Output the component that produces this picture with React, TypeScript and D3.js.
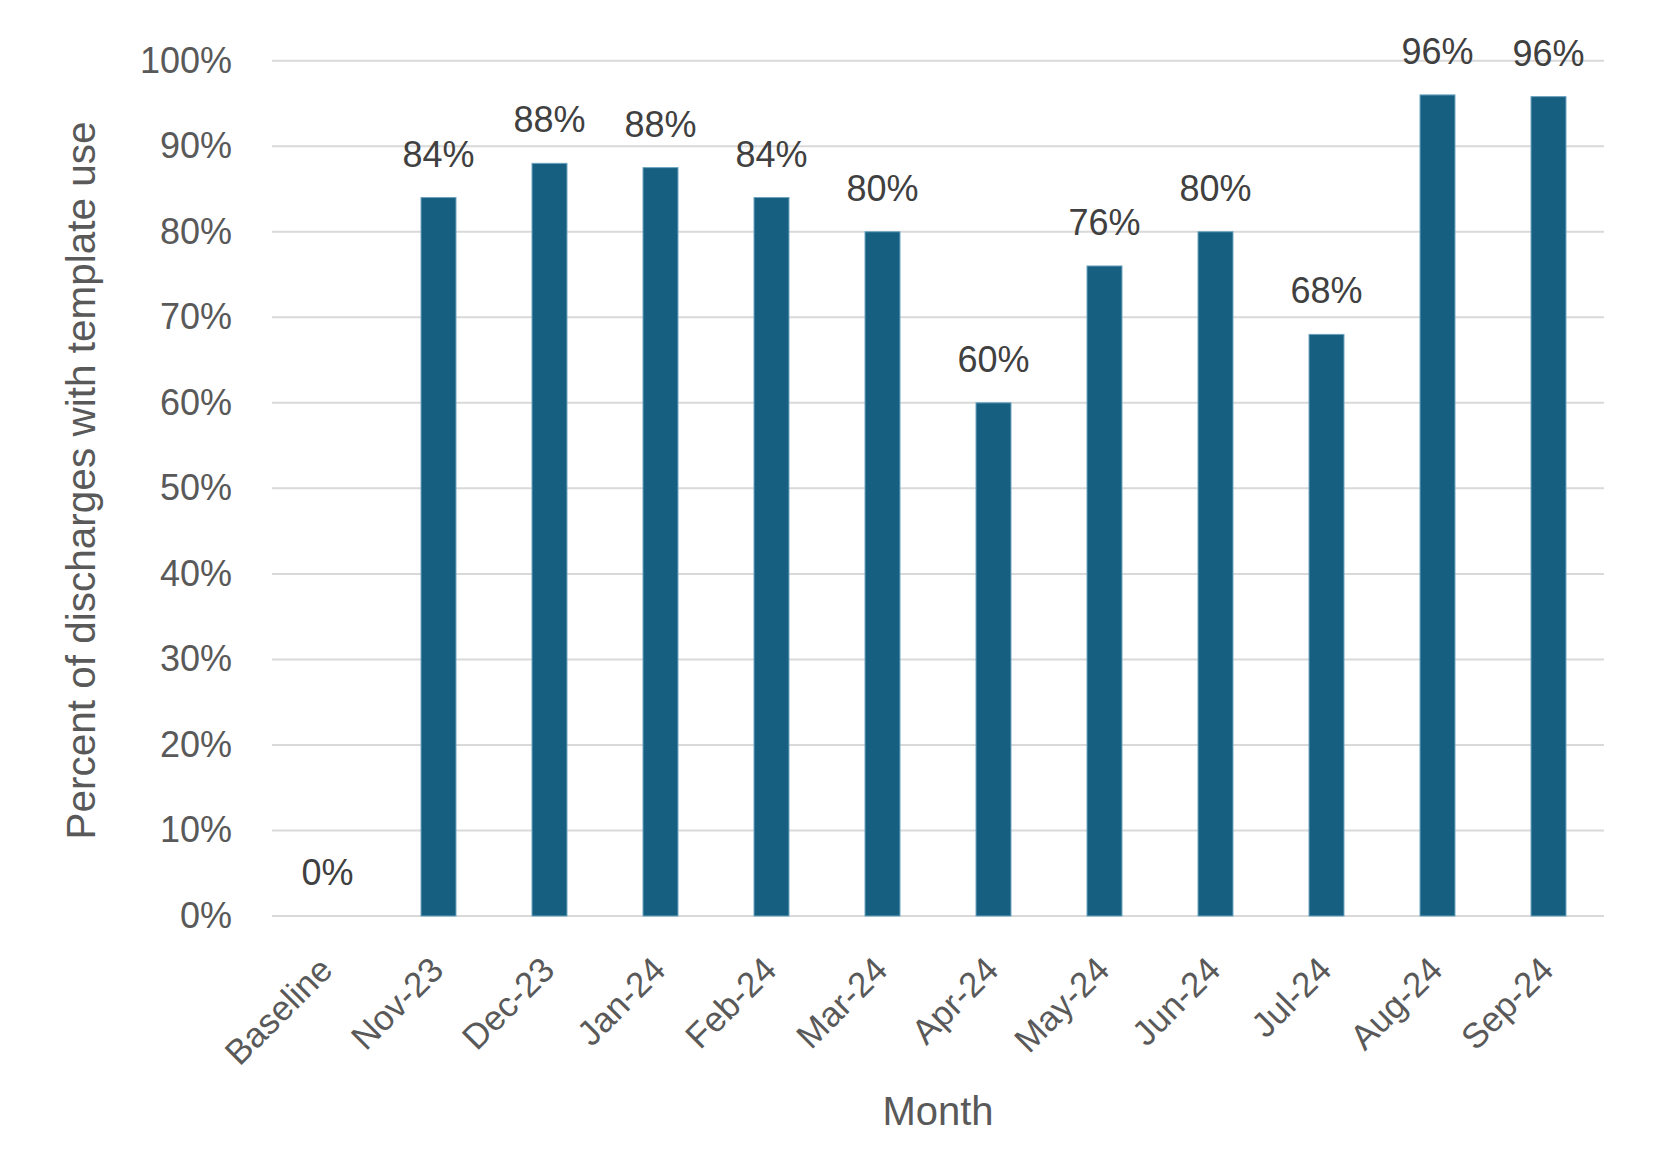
import React from "react";
import * as d3 from "d3";

const categories = ["Baseline", "Nov-23", "Dec-23", "Jan-24", "Feb-24", "Mar-24", "Apr-24", "May-24", "Jun-24", "Jul-24", "Aug-24", "Sep-24"];
const values = [0, 0.84, 0.88, 0.875, 0.84, 0.80, 0.60, 0.76, 0.80, 0.68, 0.96, 0.958];
const labels = ["0%", "84%", "88%", "88%", "84%", "80%", "60%", "76%", "80%", "68%", "96%", "96%"];
const yTicks = [0, 0.1, 0.2, 0.3, 0.4, 0.5, 0.6, 0.7, 0.8, 0.9, 1.0];

const W = 1659;
const H = 1150;
const left = 272;
const right = 1604;
const top = 60.7;
const bottom = 916;
const FONT = "'Liberation Sans', Arial, sans-serif";

export default function App() {
  const x = d3.scaleBand<string>().domain(categories).range([left, right]).padding(0);
  const y = d3.scaleLinear().domain([0, 1]).range([bottom, top]);
  const bw = x.bandwidth() * 0.315;

  return (
    <svg width={W} height={H} style={{ position: "absolute", left: 0, top: 0, background: "#fff" }} fontFamily={FONT}>
      {yTicks.map((t) => (
        <g key={t}>
          <line x1={left} x2={right} y1={y(t)} y2={y(t)} stroke="#d9d9d9" strokeWidth={2} />
          <text x={232} y={y(t) + 12} textAnchor="end" fontSize={36} fill="#595959">
            {d3.format(".0%")(t)}
          </text>
        </g>
      ))}
      {categories.map((c, i) => {
        const cx = (x(c) as number) + x.bandwidth() / 2;
        return (
          <g key={c}>
            {values[i] > 0 && (
              <rect
                x={cx - bw / 2}
                y={y(values[i])}
                width={bw}
                height={bottom - y(values[i])}
                fill="#175f80"
                stroke="#6aa3bf"
                strokeWidth={1}
              />
            )}
            <text x={cx} y={y(values[i]) - 31} textAnchor="middle" fontSize={36} fill="#404040">
              {labels[i]}
            </text>
            <text
              transform={`translate(${cx + 7},${972}) rotate(-45)`}
              textAnchor="end"
              fontSize={35}
              fill="#595959"
            >
              {c}
            </text>
          </g>
        );
      })}
      <text
        transform={`translate(95,480.5) rotate(-90)`}
        textAnchor="middle"
        fontSize={40.5}
        fill="#595959"
      >
        Percent of discharges with template use
      </text>
      <text x={(left + right) / 2} y={1125} textAnchor="middle" fontSize={40} fill="#595959">
        Month
      </text>
    </svg>
  );
}
